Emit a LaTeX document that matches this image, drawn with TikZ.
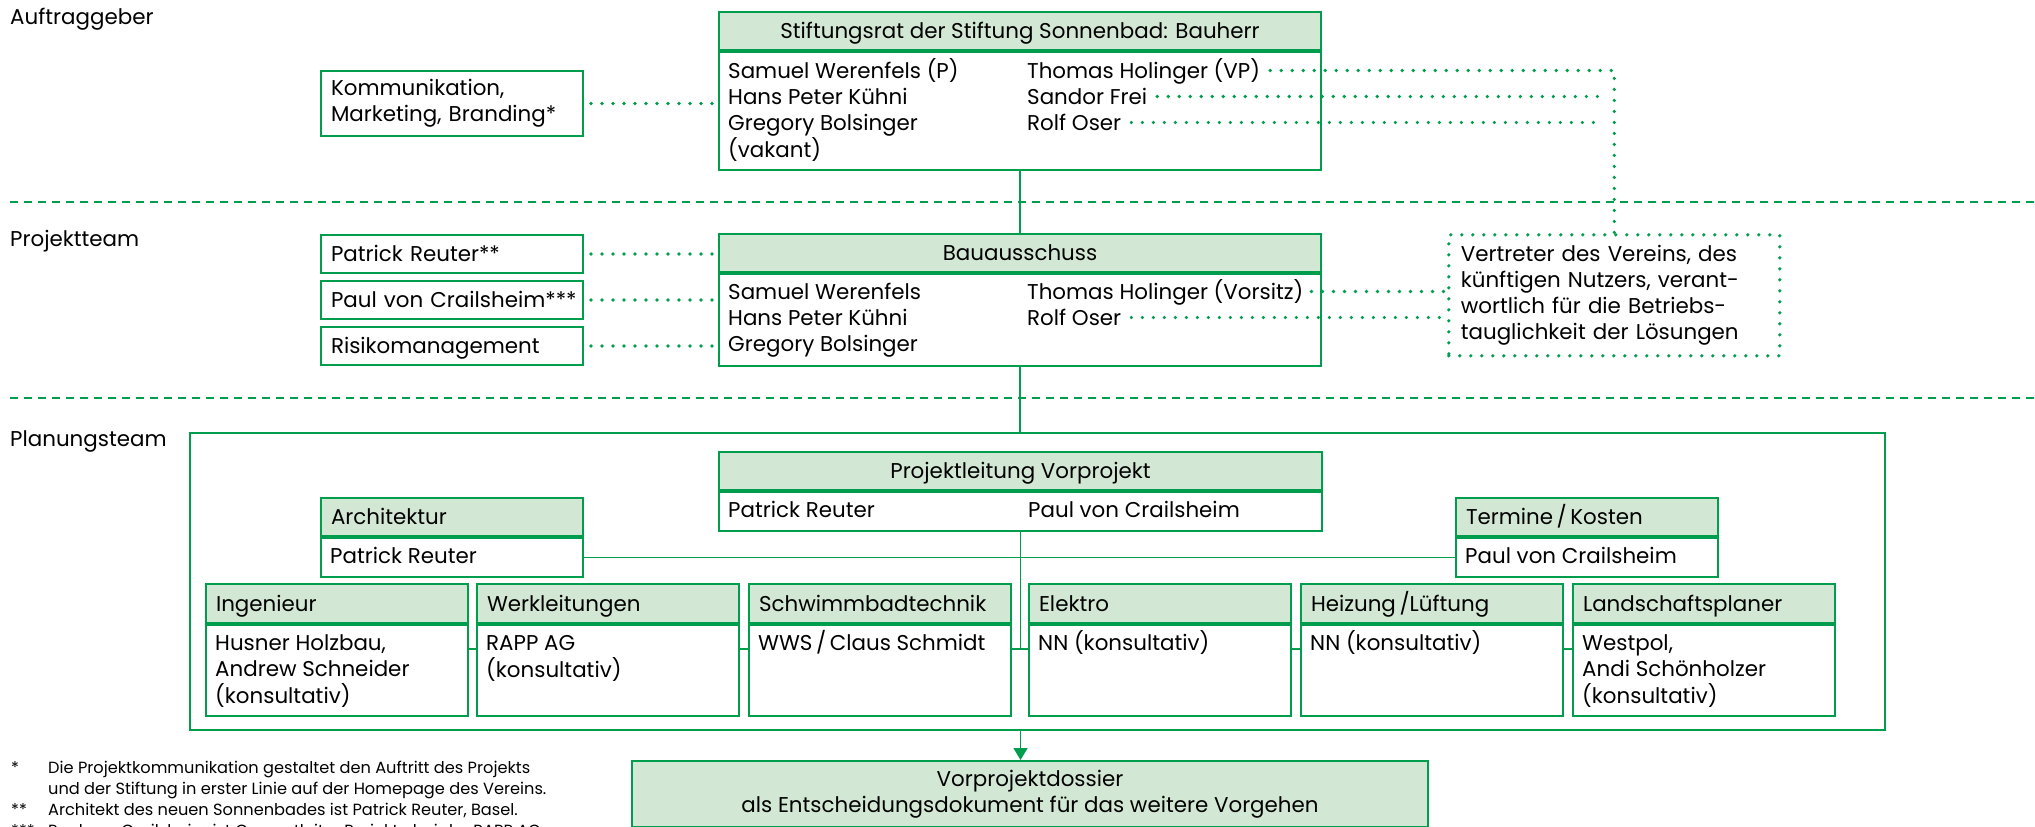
\documentclass[tikz,border=0pt]{standalone}
\usepackage{fontspec}
\setmainfont{Poppins}
\usetikzlibrary{arrows.meta}
\definecolor{grn}{RGB}{0,158,76}
\definecolor{hdrgrn}{RGB}{211,232,212}
\newcommand{\mainsize}{\fontsize{21.4}{26}\selectfont}
\newcommand{\notesize}{\fontsize{16.2}{21}\selectfont}
\newcommand{\lines}[1]{\begin{tabular}[t]{@{}l@{}}#1\end{tabular}}

\tikzset{
  boxline/.style={draw=grn, line width=2},
  hdr/.style={boxline, fill=hdrgrn, inner sep=0, minimum height=38, text height=15, text depth=0, font=\mainsize, anchor=north west},
  hdrl/.style={hdr, minimum width=262, text width=242, align=left, inner xsep=10},
  body/.style={boxline, fill=white, inner sep=0, anchor=north},
  txt/.style={inner sep=0, anchor=base west, font=\mainsize},
  capc/.style={text height=15, text depth=0},
  sbox/.style={boxline, inner xsep=10, inner ysep=0, text width=242, align=left, font=\mainsize, anchor=north west, minimum height=38},
  dotline/.style={draw=grn, line width=3.6, line cap=round, dash pattern=on 0pt off 11pt},
  link/.style={draw=grn, line width=1.6},
  sep/.style={draw=grn, line width=2, dash pattern=on 8pt off 6pt},
  lbl/.style={inner sep=0, anchor=base west, font=\mainsize},
  fnote/.style={inner sep=0, anchor=base west, font=\notesize},
}

\begin{document}
\begin{tikzpicture}[x=1pt, y=-1pt]
\useasboundingbox (0,0) rectangle (2035,827);

% levels
\node[lbl] (auftr) at (10,24) {Auftraggeber};
\node[lbl] (projl) at (10,246) {Projektteam};
\node[lbl] (planl) at (10,446) {Planungsteam};
\draw[sep] (10,202) -- (2035,202);
\draw[sep] (10,398) -- (2035,398);

% Stiftungsrat
\node[hdr, minimum width=602] (stift) at (718,11) {Stiftungsrat der Stiftung Sonnenbad: Bauherr};
\node[body, minimum width=602, minimum height=118] (stift-b) at (stift.south) {};
\node[txt] (stift-l) at ([xshift=10pt, yshift=-27pt]stift-b.north west) {\lines{Samuel Werenfels (P)\\Hans Peter Kühni\\Gregory Bolsinger\\(vakant)}};
\node[txt, capc] (vp) at ([xshift=309pt, yshift=-27pt]stift-b.north west) {Thomas Holinger (VP)};
\node[txt, capc] (sf) at ([xshift=309pt, yshift=-53pt]stift-b.north west) {Sandor Frei};
\node[txt, capc] (ro) at ([xshift=309pt, yshift=-79pt]stift-b.north west) {Rolf Oser};
\node[sbox] (komm) at (320,70) [minimum height=65] {Kommunikation,\\Marketing, Branding*};

% Bauausschuss
\node[hdr, minimum width=602] (bau) at (718,233) {Bauausschuss};
\node[body, minimum width=602, minimum height=92] (bau-b) at (bau.south) {};
\node[txt] (bau-l) at ([xshift=10pt, yshift=-26pt]bau-b.north west) {\lines{Samuel Werenfels\\Hans Peter Kühni\\Gregory Bolsinger}};
\node[txt, capc] (thv) at ([xshift=309pt, yshift=-26pt]bau-b.north west) {Thomas Holinger (Vorsitz)};
\node[txt, capc] (ro2) at ([xshift=309pt, yshift=-52pt]bau-b.north west) {Rolf Oser};
\node[sbox, capc] (patr) at (320,234) {Patrick Reuter**};
\node[sbox, capc] (paul) at (320,280) {\mbox{Paul von Crailsheim***}};
\node[sbox, capc] (risk) at (320,326) {Risikomanagement};
\node[dotline, inner xsep=12, inner ysep=0, text width=307, align=left, minimum height=121, anchor=north west, font=\mainsize] (vert) at (1447,233) {Vertreter des Vereins, des\\künftigen Nutzers, verant-\\wortlich für die Betriebs-\\tauglichkeit der Lösungen};

% Planungsteam
\node[boxline, inner sep=0, minimum width=1695, minimum height=297, anchor=north west] (plan) at (189,432) {};
\node[hdr, minimum width=603, align=center] (pl) at (718,451) {Projektleitung Vorprojekt};
\node[body, minimum width=603, minimum height=39] (pl-b) at (pl.south) {};
\node[txt, capc] (pl-1) at ([xshift=10pt, yshift=-26pt]pl-b.north west) {Patrick Reuter};
\node[txt, capc] (pl-2) at ([xshift=310pt, yshift=-26pt]pl-b.north west) {Paul von Crailsheim};
\node[hdrl] (arch) at (320,497) {Architektur};
\node[body, minimum width=262, minimum height=39] (arch-b) at (arch.south) {};
\node[txt, capc] (arch-t) at ([xshift=10pt, yshift=-26pt]arch-b.north west) {Patrick Reuter};
\node[hdrl] (term) at (1455,497) {Termine\,/\,Kosten};
\node[body, minimum width=262, minimum height=39] (term-b) at (term.south) {};
\node[txt, capc] (term-t) at ([xshift=10pt, yshift=-26pt]term-b.north west) {Paul von Crailsheim};
\foreach \nm/\xx/\hd/\bd in {ing/205/Ingenieur/{Husner Holzbau,\\Andrew Schneider\\(konsultativ)},
    werk/476/Werkleitungen/{RAPP AG\\(konsultativ)},
    schw/748/Schwimmbadtechnik/{WWS\,/\,Claus Schmidt},
    elek/1028/Elektro/{NN (konsultativ)},
    heiz/1300/{Heizung\,/Lüftung}/{NN (konsultativ)},
    land/1572/Landschaftsplaner/{Westpol,\\Andi Schönholzer\\(konsultativ)}} {
  \node[hdrl, minimum height=39] (\nm) at (\xx,583) {\hd};
  \node[body, minimum width=262, minimum height=91] (\nm-b) at (\nm.south) {};
  \node[txt] (\nm-t) at ([xshift=10pt, yshift=-26pt]\nm-b.north west) {\lines{\bd}};
}
\node[hdr, minimum width=796, minimum height=66, text height=, text depth=, align=center] (dossier) at (631,760) {Vorprojektdossier\\als Entscheidungsdokument für das weitere Vorgehen};

% connectors
\coordinate (rowy) at (0,649);
\coordinate (jn) at (vert.north |- vp.east);
\draw[link] (stift-b.south) -- (bau.north);
\draw[link] (bau-b.south) -- (bau-b.south |- plan.north);
\draw[link] (pl-b.south) -- (pl-b.south |- rowy);
\draw[link] (arch-b.east) -- (term-b.west);
\foreach \a/\b in {ing/werk, werk/schw, schw/elek, elek/heiz, heiz/land}
  \draw[link] (\a-b.east |- rowy) -- (\b-b.west |- rowy);
\draw[link, -{Triangle[width=14pt, length=12pt]}] (plan.south -| pl-b.south) -- (dossier.north -| pl-b.south);

\draw[dotline, shorten <=7pt] (komm.east) -- (komm.east -| stift.west);
\foreach \s in {patr, paul, risk}
  \draw[dotline, shorten <=7pt] (\s.east) -- (\s.east -| bau.west);
\draw[dotline, shorten <=10pt] (vp.east) -- (jn) -- (vert.north);
\draw[dotline, shorten <=10pt, shorten >=10pt] (sf.east) -- (sf.east -| jn);
\draw[dotline, shorten <=10pt, shorten >=10pt] (ro.east) -- (ro.east -| jn);
\draw[dotline, shorten <=8pt] (thv.east) -- (thv.east -| vert.west);
\draw[dotline, shorten <=10pt] (ro2.east) -- (ro2.east -| vert.west);

% footnotes
\node[fnote] (fm1) at (11,773) {*};
\node[fnote] (fn1) at (48,773) {\lines{Die Projektkommunikation gestaltet den Auftritt des Projekts\\und der Stiftung in erster Linie auf der Homepage des Vereins.}};
\node[fnote] (fm2) at (11,815) {**};
\node[fnote] (fn2) at (48,815) {Architekt des neuen Sonnenbades ist Patrick Reuter, Basel.};
\node[fnote] (fm3) at (11,836) {***};
\node[fnote] (fn3) at (48,836) {Paul von Crailsheim ist Gesamtleiter Projekte bei der RAPP AG.};
\end{tikzpicture}
\end{document}
